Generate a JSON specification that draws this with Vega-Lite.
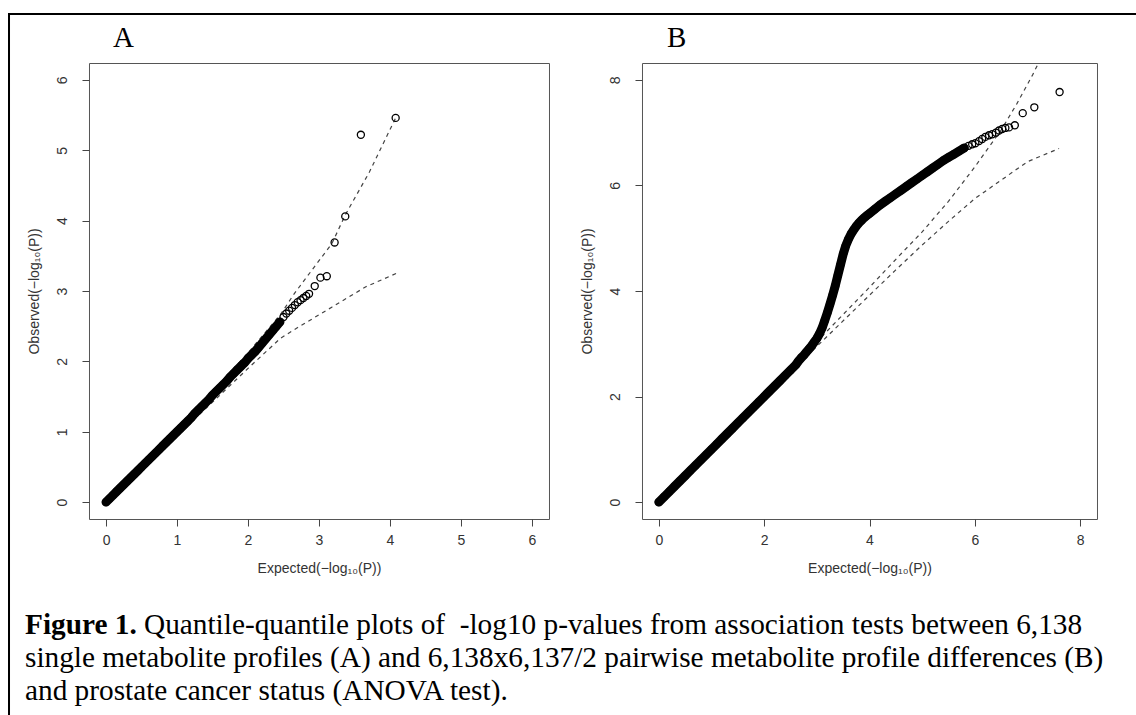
{
  "$schema": "https://vega.github.io/schema/vega-lite/v6.json",
  "autosize": {"type": "none"},
  "padding": {"left": 9, "top": 14, "right": 1127, "bottom": 701},
  "background": "white",
  "bounds": "flush",
  "spacing": 0,
  "datasets": {
    "caption": [
      {"line": 1, "part": "bold", "text": "Figure 1."},
      {"line": 1, "part": "rest", "text": "Quantile-quantile plots of \u00a0-log10 p-values from association tests between 6,138"},
      {"line": 2, "part": "body", "text": "single metabolite profiles (A) and 6,138x6,137/2 pairwise metabolite profile differences (B)"},
      {"line": 3, "part": "body", "text": "and prostate cancer status (ANOVA test)."}
    ],
    "pointsA": [
      {"expected":0,"observed":0},{"expected":0.05,"observed":0.05},{"expected":0.1,"observed":0.1},{"expected":0.15,"observed":0.15},{"expected":0.2,"observed":0.2},{"expected":0.25,"observed":0.25},{"expected":0.3,"observed":0.3},{"expected":0.35,"observed":0.35},{"expected":0.4,"observed":0.4},{"expected":0.45,"observed":0.45},{"expected":0.5,"observed":0.5},{"expected":0.55,"observed":0.55},{"expected":0.6,"observed":0.6},{"expected":0.65,"observed":0.65},{"expected":0.7,"observed":0.7},{"expected":0.75,"observed":0.75},{"expected":0.8,"observed":0.8},{"expected":0.85,"observed":0.85},{"expected":0.9,"observed":0.9},{"expected":0.95,"observed":0.95},{"expected":1.0,"observed":1.0},{"expected":1.05,"observed":1.05},{"expected":1.1,"observed":1.1},{"expected":1.15,"observed":1.15},{"expected":1.2,"observed":1.2},{"expected":1.25,"observed":1.26},{"expected":1.3,"observed":1.31},{"expected":1.35,"observed":1.36},{"expected":1.4,"observed":1.41},{"expected":1.45,"observed":1.46},{"expected":1.5,"observed":1.52},{"expected":1.55,"observed":1.57},{"expected":1.6,"observed":1.62},{"expected":1.65,"observed":1.67},{"expected":1.7,"observed":1.72},{"expected":1.75,"observed":1.78},{"expected":1.8,"observed":1.83},{"expected":1.85,"observed":1.88},{"expected":1.9,"observed":1.93},{"expected":1.95,"observed":1.98},{"expected":2.0,"observed":2.04},{"expected":2.05,"observed":2.09},{"expected":2.1,"observed":2.14},{"expected":2.15,"observed":2.2},{"expected":2.2,"observed":2.26},{"expected":2.25,"observed":2.32},{"expected":2.3,"observed":2.38},{"expected":2.35,"observed":2.44},{"expected":2.4,"observed":2.5},{"expected":2.45,"observed":2.56},
      {"expected":2.5,"observed":2.63},{"expected":2.54,"observed":2.68},{"expected":2.58,"observed":2.72},{"expected":2.62,"observed":2.76},{"expected":2.66,"observed":2.8},{"expected":2.7,"observed":2.84},{"expected":2.74,"observed":2.87},{"expected":2.78,"observed":2.9},{"expected":2.82,"observed":2.93},{"expected":2.86,"observed":2.96},{"expected":2.94,"observed":3.07},{"expected":3.02,"observed":3.19},{"expected":3.11,"observed":3.21},{"expected":3.22,"observed":3.69},{"expected":3.37,"observed":4.06},{"expected":3.59,"observed":5.22},{"expected":4.08,"observed":5.46}
    ],
    "upperA": [
      {"expected":0,"observed":0},{"expected":0.5,"observed":0.52},{"expected":1,"observed":1.05},{"expected":1.5,"observed":1.57},{"expected":2,"observed":2.12},{"expected":2.46,"observed":2.67},{"expected":2.65,"observed":2.96},{"expected":2.94,"observed":3.35},{"expected":3.18,"observed":3.67},{"expected":3.37,"observed":4.08},{"expected":3.71,"observed":4.69},{"expected":4.08,"observed":5.46}
    ],
    "lowerA": [
      {"expected":0,"observed":0},{"expected":0.5,"observed":0.48},{"expected":1,"observed":0.95},{"expected":1.5,"observed":1.42},{"expected":2,"observed":1.9},{"expected":2.46,"observed":2.33},{"expected":2.7,"observed":2.48},{"expected":3.18,"observed":2.77},{"expected":3.66,"observed":3.06},{"expected":4.09,"observed":3.25}
    ],
    "pointsB": [
      {"expected":0,"observed":0},{"expected":0.1,"observed":0.1},{"expected":0.2,"observed":0.2},{"expected":0.3,"observed":0.3},{"expected":0.4,"observed":0.4},{"expected":0.5,"observed":0.5},{"expected":0.6,"observed":0.6},{"expected":0.7,"observed":0.7},{"expected":0.8,"observed":0.8},{"expected":0.9,"observed":0.9},{"expected":1.0,"observed":1.0},{"expected":1.1,"observed":1.1},{"expected":1.2,"observed":1.2},{"expected":1.3,"observed":1.3},{"expected":1.4,"observed":1.4},{"expected":1.5,"observed":1.5},{"expected":1.6,"observed":1.6},{"expected":1.7,"observed":1.7},{"expected":1.8,"observed":1.8},{"expected":1.9,"observed":1.9},{"expected":2.0,"observed":2.0},{"expected":2.1,"observed":2.1},{"expected":2.2,"observed":2.2},{"expected":2.3,"observed":2.3},{"expected":2.4,"observed":2.4},{"expected":2.5,"observed":2.5},{"expected":2.6,"observed":2.6},{"expected":2.65,"observed":2.67},{"expected":2.7,"observed":2.73},{"expected":2.75,"observed":2.78},{"expected":2.8,"observed":2.84},{"expected":2.85,"observed":2.9},{"expected":2.9,"observed":2.96},{"expected":2.95,"observed":3.03},{"expected":3.0,"observed":3.1},{"expected":3.05,"observed":3.19},{"expected":3.1,"observed":3.3},{"expected":3.15,"observed":3.44},{"expected":3.2,"observed":3.59},{"expected":3.25,"observed":3.75},{"expected":3.3,"observed":3.92},{"expected":3.35,"observed":4.1},{"expected":3.4,"observed":4.3},{"expected":3.45,"observed":4.5},{"expected":3.5,"observed":4.7},{"expected":3.55,"observed":4.86},{"expected":3.6,"observed":4.98},{"expected":3.65,"observed":5.08},{"expected":3.7,"observed":5.16},{"expected":3.75,"observed":5.23},{"expected":3.8,"observed":5.29},{"expected":3.85,"observed":5.34},{"expected":3.9,"observed":5.39},{"expected":3.95,"observed":5.43},{"expected":4.0,"observed":5.47},{"expected":4.1,"observed":5.55},{"expected":4.2,"observed":5.63},{"expected":4.3,"observed":5.7},{"expected":4.4,"observed":5.77},{"expected":4.5,"observed":5.84},{"expected":4.6,"observed":5.91},{"expected":4.7,"observed":5.98},{"expected":4.8,"observed":6.05},{"expected":4.9,"observed":6.12},{"expected":5.0,"observed":6.19},{"expected":5.1,"observed":6.26},{"expected":5.2,"observed":6.33},{"expected":5.3,"observed":6.4},{"expected":5.4,"observed":6.47},{"expected":5.5,"observed":6.53},{"expected":5.6,"observed":6.59},{"expected":5.7,"observed":6.65},{"expected":5.8,"observed":6.71},
      {"expected":5.88,"observed":6.75},{"expected":5.95,"observed":6.78},{"expected":6.01,"observed":6.8},{"expected":6.08,"observed":6.84},{"expected":6.14,"observed":6.88},{"expected":6.2,"observed":6.92},{"expected":6.27,"observed":6.95},{"expected":6.33,"observed":6.97},{"expected":6.4,"observed":7.0},{"expected":6.46,"observed":7.04},{"expected":6.52,"observed":7.07},{"expected":6.58,"observed":7.09},{"expected":6.65,"observed":7.1},{"expected":6.76,"observed":7.14},{"expected":6.91,"observed":7.37},{"expected":7.13,"observed":7.48},{"expected":7.61,"observed":7.77}
    ],
    "upperB": [
      {"expected":0,"observed":0},{"expected":1,"observed":1.0},{"expected":2,"observed":2.02},{"expected":3,"observed":3.04},{"expected":4,"observed":4.07},{"expected":4.5,"observed":4.6},{"expected":5,"observed":5.12},{"expected":5.5,"observed":5.7},{"expected":6,"observed":6.35},{"expected":6.5,"observed":7.05},{"expected":6.8,"observed":7.55},{"expected":7.1,"observed":8.1},{"expected":7.3,"observed":8.5}
    ],
    "lowerB": [
      {"expected":0,"observed":0},{"expected":1,"observed":0.99},{"expected":2,"observed":1.97},{"expected":3,"observed":2.95},{"expected":4,"observed":3.92},{"expected":4.5,"observed":4.4},{"expected":5,"observed":4.87},{"expected":5.5,"observed":5.32},{"expected":6,"observed":5.75},{"expected":6.5,"observed":6.1},{"expected":7,"observed":6.45},{"expected":7.6,"observed":6.7}
    ]
  },
  "config": {
    "view": {"stroke": "#555", "strokeWidth": 1},
    "axis": {
      "domain": false, "grid": false, "ticks": true, "tickSize": 7, "tickColor": "#444", "tickWidth": 1,
      "labelFont": "Liberation Sans", "labelFontSize": 14, "labelColor": "#333", "labelPadding": 7,
      "titleFont": "Liberation Sans", "titleFontSize": 14, "titleFontWeight": "normal", "titleColor": "#333"
    },
    "axisX": {"titlePadding": 14, "labelFlush": false},
    "axisY": {"labelAngle": 270, "labelAlign": "center", "labelBaseline": "bottom", "labelPadding": 12, "titlePadding": 14, "labelFlush": false}
  },
  "vconcat": [
    {
      "width": 1140, "height": 0.01,
      "view": {"stroke": "black", "strokeWidth": 2, "fill": null},
      "data": {"values": [{"v": 0}]},
      "mark": {"type": "point", "opacity": 0},
      "encoding": {}
    },
    {
      "bounds": "flush",
      "spacing": 78.99,
      "hconcat": [
        {
          "width": 0.01, "height": 720,
          "view": {"stroke": "black", "strokeWidth": 2, "fill": null},
          "data": {"name": "caption"},
          "layer": [
            {
              "transform": [{"filter": "datum.part === 'bold'"}],
              "mark": {"type": "text", "align": "left", "baseline": "alphabetic", "dx": 16, "font": "Liberation Serif", "fontSize": 29.3, "fontWeight": "bold", "color": "black"},
              "encoding": {
                "x": {"datum": 0, "type": "quantitative", "scale": {"domain": [0, 1]}, "axis": null},
                "y": {"field": "line", "type": "quantitative", "scale": {"domain": [1, 3], "range": [619, 685]}, "axis": null},
                "text": {"field": "text"}
              }
            },
            {
              "transform": [{"filter": "datum.part === 'rest'"}],
              "mark": {"type": "text", "align": "left", "baseline": "alphabetic", "dx": 135, "font": "Liberation Serif", "fontSize": 29.3, "color": "black"},
              "encoding": {
                "x": {"datum": 0, "type": "quantitative"},
                "y": {"field": "line", "type": "quantitative"},
                "text": {"field": "text"}
              }
            },
            {
              "transform": [{"filter": "datum.part === 'body'"}],
              "mark": {"type": "text", "align": "left", "baseline": "alphabetic", "dx": 16, "font": "Liberation Serif", "fontSize": 29.3, "color": "black"},
              "encoding": {
                "x": {"datum": 0, "type": "quantitative"},
                "y": {"field": "line", "type": "quantitative"},
                "text": {"field": "text"}
              }
            }
          ]
        },
        {
          "bounds": "flush",
          "spacing": 0,
          "vconcat": [
            {
              "width": 1008, "height": 48,
              "view": {"stroke": null},
              "data": {"values": [{"panel": "A"}, {"panel": "B"}]},
              "mark": {"type": "text", "align": "left", "baseline": "alphabetic", "font": "Liberation Serif", "fontSize": 29, "color": "black"},
              "encoding": {
                "x": {"field": "panel", "type": "nominal", "scale": {"type": "point", "domain": ["A", "B"], "range": [24, 578], "padding": 0}, "axis": null},
                "y": {"datum": 0, "type": "quantitative", "scale": {"domain": [0, 1], "range": [32, 0]}, "axis": null},
                "text": {"field": "panel"}
              }
            },
            {
              "bounds": "flush",
              "spacing": 93,
              "hconcat": [
                {
                  "width": 460, "height": 456,
                  "encoding": {
                    "x": {"field": "expected", "type": "quantitative", "scale": {"domain": [-0.24, 6.24], "nice": false, "zero": false}, "axis": {"values": [0, 1, 2, 3, 4, 5, 6], "title": "Expected(−log₁₀(P))"}},
                    "y": {"field": "observed", "type": "quantitative", "scale": {"domain": [-0.24, 6.24], "nice": false, "zero": false}, "axis": {"values": [0, 1, 2, 3, 4, 5, 6], "title": "Observed(−log₁₀(P))"}}
                  },
                  "layer": [
                    {"data": {"name": "upperA"}, "mark": {"type": "line", "strokeDash": [4, 4], "color": "#444", "strokeWidth": 1.2, "clip": true}},
                    {"data": {"name": "lowerA"}, "mark": {"type": "line", "strokeDash": [4, 4], "color": "#444", "strokeWidth": 1.2, "clip": true}},
                    {"data": {"name": "pointsA"}, "transform": [{"filter": "datum.expected <= 2.45"}], "mark": {"type": "line", "color": "black", "strokeWidth": 9, "strokeCap": "round", "strokeJoin": "round"}},
                    {"data": {"name": "pointsA"}, "mark": {"type": "point", "shape": "circle", "filled": false, "size": 50, "color": "black", "strokeWidth": 1.3, "opacity": 1}}
                  ]
                },
                {
                  "width": 455, "height": 456,
                  "encoding": {
                    "x": {"field": "expected", "type": "quantitative", "scale": {"domain": [-0.32, 8.32], "nice": false, "zero": false}, "axis": {"values": [0, 2, 4, 6, 8], "title": "Expected(−log₁₀(P))"}},
                    "y": {"field": "observed", "type": "quantitative", "scale": {"domain": [-0.32, 8.32], "nice": false, "zero": false}, "axis": {"values": [0, 2, 4, 6, 8], "title": "Observed(−log₁₀(P))"}}
                  },
                  "layer": [
                    {"data": {"name": "upperB"}, "mark": {"type": "line", "strokeDash": [4, 4], "color": "#444", "strokeWidth": 1.2, "clip": true}},
                    {"data": {"name": "lowerB"}, "mark": {"type": "line", "strokeDash": [4, 4], "color": "#444", "strokeWidth": 1.2, "clip": true}},
                    {"data": {"name": "pointsB"}, "transform": [{"filter": "datum.expected <= 5.8"}], "mark": {"type": "line", "color": "black", "strokeWidth": 9, "strokeCap": "round", "strokeJoin": "round"}},
                    {"data": {"name": "pointsB"}, "mark": {"type": "point", "shape": "circle", "filled": false, "size": 50, "color": "black", "strokeWidth": 1.3, "opacity": 1}}
                  ]
                }
              ]
            }
          ]
        }
      ]
    }
  ]
}
